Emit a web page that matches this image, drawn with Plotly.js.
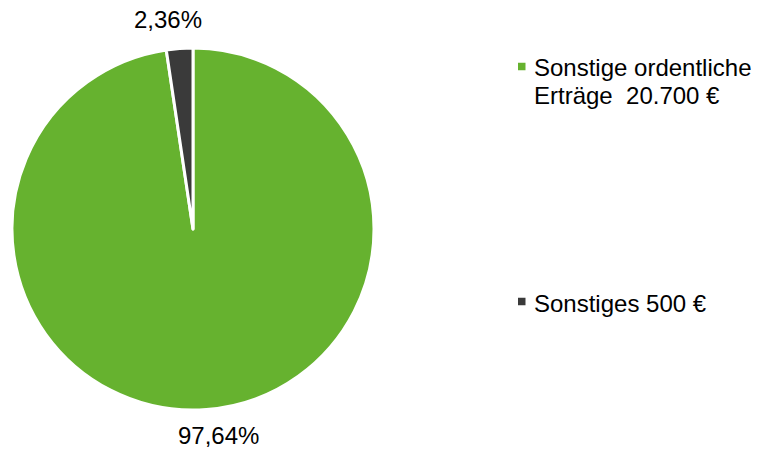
<!DOCTYPE html>
<html>
<head>
<meta charset="utf-8">
<script src="https://cdn.plot.ly/plotly-3.0.1.min.js"></script>
<style>html,body{margin:0;padding:0;background:#fff;}#chart{width:758px;height:451px;}</style>
</head>
<body>
<div id="chart"></div>
<script>
const labels = ["Sonstige ordentliche Erträge", "Sonstiges"];
const values = [20700, 500];
const colors = ["#66B22F", "#3A3A3A"];
const legendLines = [["Sonstige ordentliche", "Erträge\u00a0 20.700 €"], ["Sonstiges 500 €"]];

const W = 758, H = 451;
const FONT = "Liberation Sans, Arial, sans-serif";
// legend layout (pixels from top-left)
const legX = 532, sqX0 = 518, sqSize = 7.5;
const itemTop = [68, 303];
const lineGap = 27;

const annotations = [];
const shapes = [];
legendLines.forEach((lines, i) => {
  lines.forEach((t, j) => {
    annotations.push({
      xref: "paper", yref: "paper", x: legX / W, y: 1 - (itemTop[i] + j * lineGap) / H,
      xanchor: "left", yanchor: "middle", showarrow: false, text: t,
      font: {family: FONT, size: 24, color: "#000"}
    });
  });
  const cyy = itemTop[i] - 1.5;
  shapes.push({
    type: "rect", xref: "paper", yref: "paper",
    x0: sqX0 / W, x1: (sqX0 + sqSize) / W,
    y0: 1 - (cyy + sqSize / 2) / H, y1: 1 - (cyy - sqSize / 2) / H,
    fillcolor: colors[i], line: {width: 0}
  });
});

const cx = 193, cy = 229, r = 181;

// percentage labels placed outside each slice at its mid angle
const total = values.reduce((a, b) => a + b, 0);
const labelDist = r + 28.5, angleShift = -2.7;
let cum = 0;
values.forEach((v, i) => {
  const frac = v / total;
  const midDeg = (cum + frac / 2) * 360 + angleShift; // clockwise from 12 o'clock
  cum += frac;
  const a = midDeg * Math.PI / 180;
  const px = cx + labelDist * Math.sin(a);
  const py = cy - labelDist * Math.cos(a);
  annotations.push({
    xref: "paper", yref: "paper", x: px / W, y: 1 - py / H,
    xanchor: "center", yanchor: "middle", yshift: 1.5, showarrow: false,
    text: (frac * 100).toFixed(2).replace(".", ",") + "%",
    font: {family: FONT, size: 24, color: "#000"}
  });
});

const data = [{
  type: "pie",
  labels: labels,
  values: values,
  sort: false,
  direction: "clockwise",
  rotation: 0,
  marker: {colors: colors, line: {color: "#fff", width: 3}},
  textinfo: "none",
  hoverinfo: "label+value+percent",
  domain: {x: [(cx - r) / W, (cx + r) / W], y: [1 - (cy + r) / H, 1 - (cy - r) / H]},
  automargin: false
}];

const layout = {
  width: W, height: H,
  margin: {l: 0, r: 0, t: 0, b: 0},
  showlegend: false,
  separators: ",.",
  paper_bgcolor: "#fff",
  font: {family: FONT},
  annotations: annotations,
  shapes: shapes
};

Plotly.newPlot("chart", data, layout, {displayModeBar: false, staticPlot: true});
</script>
</body>
</html>
